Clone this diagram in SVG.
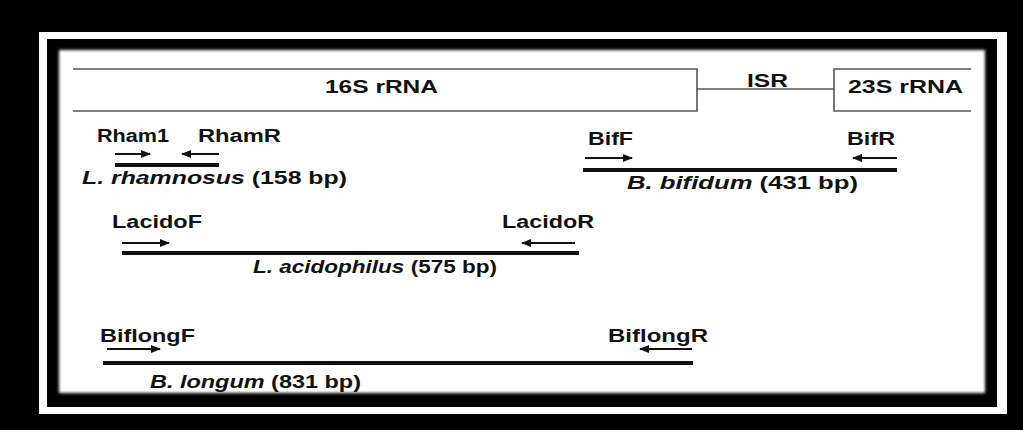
<svg xmlns="http://www.w3.org/2000/svg" width="1023" height="430" viewBox="0 0 1023 430">
  <defs>
    <style>
      .lbl { font-family: "Liberation Sans", Arial, sans-serif; font-weight: bold; font-size: 18px; fill: #111; }
      .it { font-style: italic; }
      .box { fill: none; stroke: #555; stroke-width: 1.6; }
      .primer { stroke: #111; stroke-width: 2.2; fill: none; }
      .amp { stroke: #111; stroke-width: 4; }
    </style>
    <marker id="head" viewBox="0 0 10 8" refX="9" refY="4" markerUnits="userSpaceOnUse" markerWidth="10" markerHeight="8" orient="auto">
      <path d="M0,0 L10,4 L0,8 Z" fill="#111"/>
    </marker>
    <filter id="soft" x="-5%" y="-5%" width="110%" height="110%">
      <feGaussianBlur stdDeviation="1.6"/>
    </filter>
  </defs>

  <!-- frame -->
  <rect x="0" y="0" width="1023" height="430" fill="#000"/>
  <rect x="39" y="32" width="968" height="382" fill="#fff"/>
  <rect x="47" y="39" width="950" height="368" fill="#000"/>
  <rect x="59" y="50" width="926" height="343" fill="#fff" filter="url(#soft)"/>

  <!-- rRNA operon map -->
  <g id="operon">
    <path class="box" d="M73,69 H697 V111 H73"/>
    <line class="box" x1="697" y1="89" x2="834" y2="89"/>
    <path class="box" d="M971,69 H834 V111 H971"/>
    <text class="lbl" x="325" y="93" textLength="113" lengthAdjust="spacingAndGlyphs">16S rRNA</text>
    <text class="lbl" x="747" y="87" textLength="41" lengthAdjust="spacingAndGlyphs">ISR</text>
    <text class="lbl" x="848" y="93" textLength="115" lengthAdjust="spacingAndGlyphs">23S rRNA</text>
  </g>

  <!-- amplicons -->
  <g id="rhamnosus">
    <text class="lbl" x="97" y="142" textLength="72" lengthAdjust="spacingAndGlyphs">Rham1</text>
    <text class="lbl" x="198" y="142" textLength="83" lengthAdjust="spacingAndGlyphs">RhamR</text>
    <text class="lbl" x="82" y="184" textLength="265" lengthAdjust="spacingAndGlyphs"><tspan class="it">L. rhamnosus</tspan> (158 bp)</text>
  </g>
  <g id="bifidum">
    <text class="lbl" x="588" y="145" textLength="45" lengthAdjust="spacingAndGlyphs">BifF</text>
    <text class="lbl" x="847" y="145" textLength="48" lengthAdjust="spacingAndGlyphs">BifR</text>
    <text class="lbl" x="627" y="189" textLength="231" lengthAdjust="spacingAndGlyphs"><tspan class="it">B. bifidum</tspan> (431 bp)</text>
  </g>
  <g id="acidophilus">
    <text class="lbl" x="112" y="228" textLength="90" lengthAdjust="spacingAndGlyphs">LacidoF</text>
    <text class="lbl" x="502" y="228" textLength="92" lengthAdjust="spacingAndGlyphs">LacidoR</text>
    <text class="lbl" x="253" y="273" textLength="244" lengthAdjust="spacingAndGlyphs"><tspan class="it">L. acidophilus</tspan> (575 bp)</text>
  </g>
  <g id="longum">
    <text class="lbl" x="100" y="342" textLength="95" lengthAdjust="spacingAndGlyphs">BiflongF</text>
    <text class="lbl" x="608" y="342" textLength="100" lengthAdjust="spacingAndGlyphs">BiflongR</text>
    <text class="lbl" x="150" y="388" textLength="211" lengthAdjust="spacingAndGlyphs"><tspan class="it">B. longum</tspan> (831 bp)</text>
  </g>

  <!-- primers and products -->
  <g id="connectors">
    <line class="primer" x1="115" y1="154" x2="150" y2="154" marker-end="url(#head)"/>
    <line class="primer" x1="219" y1="154" x2="182" y2="154" marker-end="url(#head)"/>
    <line class="amp" x1="115" y1="165" x2="219" y2="165"/>

    <line class="primer" x1="585" y1="158" x2="632" y2="158" marker-end="url(#head)"/>
    <line class="primer" x1="897" y1="158" x2="853" y2="158" marker-end="url(#head)"/>
    <line class="amp" x1="583" y1="170" x2="897" y2="170"/>

    <line class="primer" x1="122" y1="243" x2="169" y2="243" marker-end="url(#head)"/>
    <line class="primer" x1="575" y1="243" x2="522" y2="243" marker-end="url(#head)"/>
    <line class="amp" x1="122" y1="253" x2="579" y2="253"/>

    <line class="primer" x1="107" y1="349" x2="160" y2="349" marker-end="url(#head)"/>
    <line class="primer" x1="692" y1="349" x2="640" y2="349" marker-end="url(#head)"/>
    <line class="amp" x1="103" y1="363" x2="693" y2="363"/>
  </g>
</svg>
